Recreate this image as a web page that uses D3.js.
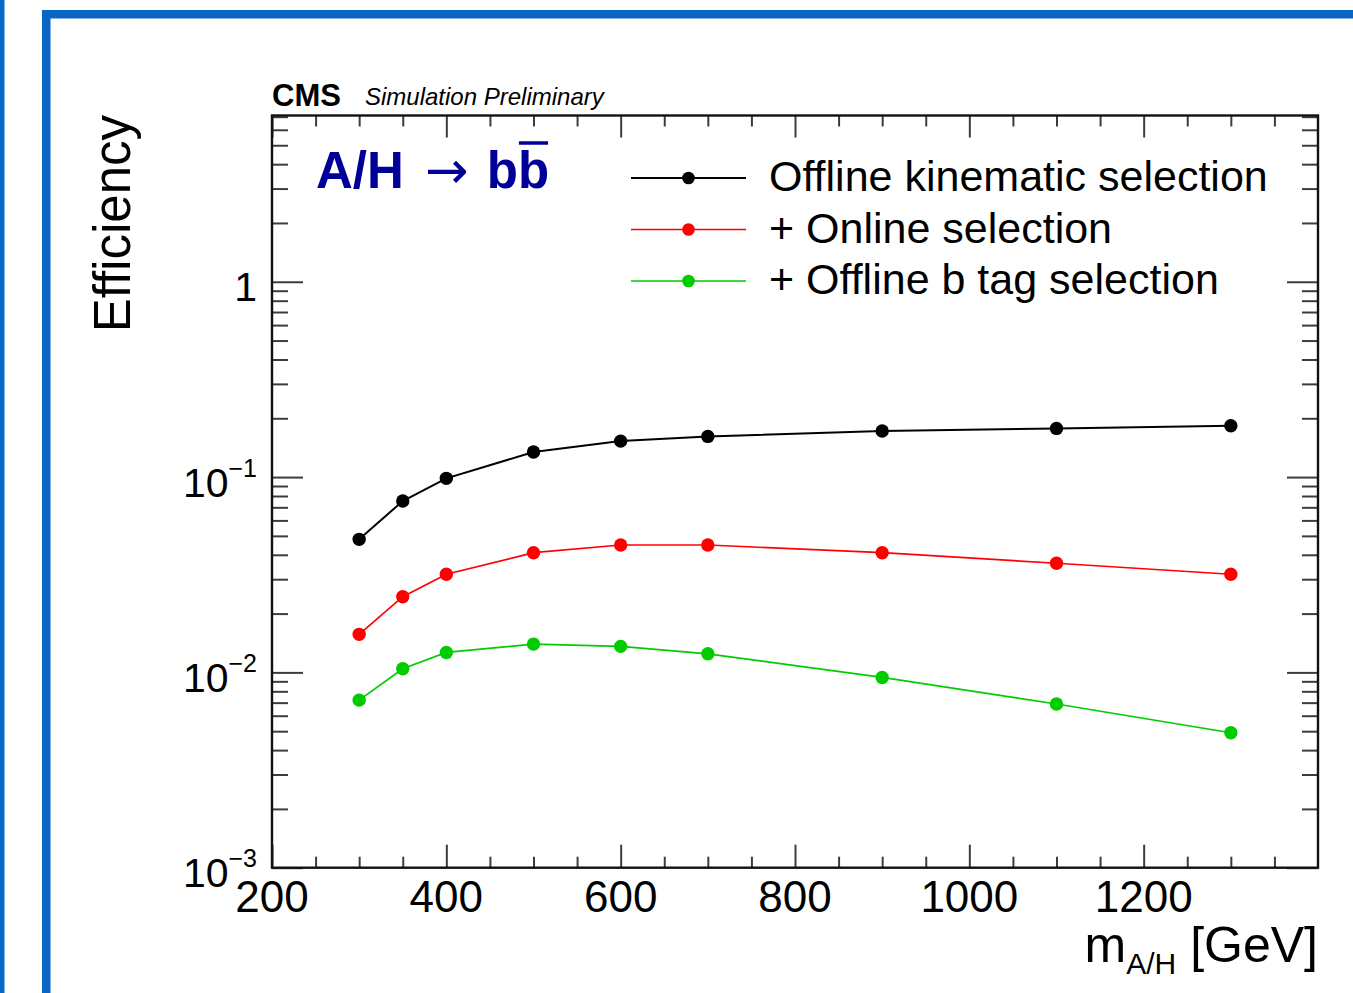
<!DOCTYPE html>
<html>
<head>
<meta charset="utf-8">
<script src="https://cdn.jsdelivr.net/npm/d3@7"></script>
<style>
  html, body { margin: 0; padding: 0; background: #fff; }
  svg { display: block; font-family: "Liberation Sans", Arial, Helvetica, sans-serif; }
</style>
</head>
<body>
<svg id="chart" width="1353" height="993"></svg>
<script>
// Signal masses (GeV)
const masses = [300, 350, 400, 500, 600, 700, 900, 1100, 1300];

// Selection efficiencies per mass point
const offlineKinematic = [0.0480, 0.0754, 0.0985, 0.1343, 0.1528, 0.1615, 0.1720, 0.1775, 0.1832];
const onlineSelection  = [0.01566, 0.0244, 0.0318, 0.0410, 0.0449, 0.0449, 0.0410, 0.0362, 0.0318];
const offlineBtag      = [0.00721, 0.01043, 0.01265, 0.01396, 0.01359, 0.01245, 0.00942, 0.00689, 0.00491];

const seriesNames  = ["Offline kinematic selection", "+ Online selection", "+ Offline b tag selection"];
const seriesColors = ["#000000", "#ff0000", "#00cc00"];
const seriesValues = [offlineKinematic, onlineSelection, offlineBtag];

// Axis ticks
const xMajorTicks = [200, 400, 600, 800, 1000, 1200, 1400];
const xTickLabels = ["200", "400", "600", "800", "1000", "1200"];
const yMajorTicks = [1e-3, 1e-2, 1e-1, 1];
const yTickLabels = [["10", "\u22123"], ["10", "\u22122"], ["10", "\u22121"], ["1", ""]];

const svg = d3.select("#chart");

// Slide frame
const frameBlue = "#0866c4";
svg.append("rect").attr("x", 0).attr("y", 0).attr("width", 4.5).attr("height", 993).attr("fill", frameBlue);
svg.append("rect").attr("x", 42).attr("y", 10).attr("width", 8.5).attr("height", 983).attr("fill", frameBlue);
svg.append("rect").attr("x", 42).attr("y", 10).attr("width", 1311).attr("height", 8.5).attr("fill", frameBlue);

// Plot area
const L = 272, R = 1318, T = 115.5, B = 867.7;
const x = d3.scaleLinear().domain([200, 1400]).range([L, R]);
const y = d3.scaleLog().domain([1e-3, 7.1]).range([B, T]);

const xMinor = d3.range(250, 1400, 50).filter(v => v % 200 !== 0);
const yMinor = [];
for (let e = -3; e <= 0; e++) {
  for (let m = 2; m <= 9; m++) {
    const v = m * Math.pow(10, e);
    if (v < 7.1) yMinor.push(v);
  }
}

const tickColor = "#3c3c3c";
function styleAxis(g) {
  g.select(".domain").remove();
  g.selectAll(".tick line").attr("stroke", tickColor).attr("stroke-width", 2);
  g.selectAll(".tick text").remove();
}

// Bottom and top ticks (pointing inward)
svg.append("g").attr("transform", `translate(0,${B})`)
  .call(d3.axisBottom(x).tickValues(xMajorTicks.filter(v => v < 1400)).tickSize(-23).tickFormat(""))
  .call(styleAxis);
svg.append("g").attr("transform", `translate(0,${B})`)
  .call(d3.axisBottom(x).tickValues(xMinor).tickSize(-11).tickFormat(""))
  .call(styleAxis);
svg.append("g").attr("transform", `translate(0,${T})`)
  .call(d3.axisTop(x).tickValues(xMajorTicks.filter(v => v < 1400)).tickSize(-22).tickFormat(""))
  .call(styleAxis);
svg.append("g").attr("transform", `translate(0,${T})`)
  .call(d3.axisTop(x).tickValues(xMinor).tickSize(-11).tickFormat(""))
  .call(styleAxis);

// Left and right ticks (pointing inward)
svg.append("g").attr("transform", `translate(${L},0)`)
  .call(d3.axisLeft(y).tickValues(yMajorTicks).tickSize(-31).tickFormat(""))
  .call(styleAxis);
svg.append("g").attr("transform", `translate(${L},0)`)
  .call(d3.axisLeft(y).tickValues(yMinor).tickSize(-16).tickFormat(""))
  .call(styleAxis);
svg.append("g").attr("transform", `translate(${R},0)`)
  .call(d3.axisRight(y).tickValues(yMajorTicks).tickSize(-31).tickFormat(""))
  .call(styleAxis);
svg.append("g").attr("transform", `translate(${R},0)`)
  .call(d3.axisRight(y).tickValues(yMinor).tickSize(-16).tickFormat(""))
  .call(styleAxis);

// Frame
svg.append("rect").attr("x", L).attr("y", T).attr("width", R - L).attr("height", B - T)
  .attr("fill", "none").attr("stroke", "#111").attr("stroke-width", 2.4);

// X tick labels
svg.append("g").selectAll("text").data(xTickLabels).join("text")
  .attr("x", d => x(+d)).attr("y", B + 44.5)
  .attr("text-anchor", "middle").attr("font-size", 44).attr("fill", "#000")
  .text(d => d);

// Y tick labels with exponents
const yl = svg.append("g").selectAll("text").data(yMajorTicks).join("text")
  .attr("x", 257).attr("y", d => y(d) + 19.5)
  .attr("text-anchor", "end").attr("font-size", 41).attr("fill", "#000");
yl.each(function (d, i) {
  const t = d3.select(this);
  const [base, exp] = yTickLabels[i];
  t.append("tspan").text(base);
  if (exp) t.append("tspan").attr("font-size", 25).attr("dy", -20).text(exp);
});

// Axis titles
svg.append("text")
  .attr("transform", "translate(130,115) rotate(-90)")
  .attr("text-anchor", "end").attr("font-size", 51).attr("fill", "#000")
  .text("Efficiency");

const xt = svg.append("text").attr("x", R).attr("y", 962)
  .attr("text-anchor", "end").attr("font-size", 50).attr("fill", "#000");
xt.append("tspan").text("m");
xt.append("tspan").attr("font-size", 30).attr("dy", 12).text("A/H");
xt.append("tspan").attr("dy", -12).text(" [GeV]");

// CMS label
svg.append("text").attr("x", 272).attr("y", 106)
  .attr("font-size", 31).attr("font-weight", "bold").attr("fill", "#000").text("CMS");
svg.append("text").attr("x", 365).attr("y", 105)
  .attr("font-size", 24).attr("font-style", "italic").attr("fill", "#000").text("Simulation Preliminary");

// Process label
const procColor = "#000099";
const proc = svg.append("text").attr("x", 316).attr("y", 188)
  .attr("font-size", 51).attr("fill", procColor);
proc.append("tspan").attr("font-weight", "bold").text("A/H ");
proc.append("tspan").attr("font-weight", "normal").attr("dx", 7)
  .attr("font-family", "'DejaVu Sans', sans-serif").attr("font-size", 52).text("\u2192");
proc.append("tspan").attr("font-weight", "bold").attr("dx", 4).text(" bb");
{
  const node = proc.node();
  const n = node.getNumberOfChars();
  const x0 = node.getStartPositionOfChar(n - 1).x;
  const x1 = node.getEndPositionOfChar(n - 1).x;
  svg.append("line").attr("x1", x0 + 1).attr("x2", x1 - 1).attr("y1", 143).attr("y2", 143)
    .attr("stroke", procColor).attr("stroke-width", 3.5);
}

// Curves
const line = d3.line().x(d => x(d[0])).y(d => y(d[1]));
seriesValues.forEach((vals, s) => {
  const pts = masses.map((m, i) => [m, vals[i]]);
  const g = svg.append("g");
  g.append("path").datum(pts).attr("d", line)
    .attr("fill", "none").attr("stroke", seriesColors[s])
    .attr("stroke-width", s === 0 ? 2 : 1.7);
  g.selectAll("circle").data(pts).join("circle")
    .attr("cx", d => x(d[0])).attr("cy", d => y(d[1])).attr("r", 6.7)
    .attr("fill", seriesColors[s]);
});

// Legend
const legendRows = [178, 229.5, 281];
const lg = svg.append("g");
seriesNames.forEach((name, s) => {
  const ry = legendRows[s];
  lg.append("line").attr("x1", 631).attr("x2", 746).attr("y1", ry).attr("y2", ry)
    .attr("stroke", seriesColors[s]).attr("stroke-width", s === 0 ? 2 : 1.7);
  lg.append("circle").attr("cx", 688.5).attr("cy", ry).attr("r", 6.3).attr("fill", seriesColors[s]);
  lg.append("text").attr("x", 769).attr("y", ry + 13)
    .attr("font-size", 43).attr("fill", "#000").text(name);
});
</script>
</body>
</html>
